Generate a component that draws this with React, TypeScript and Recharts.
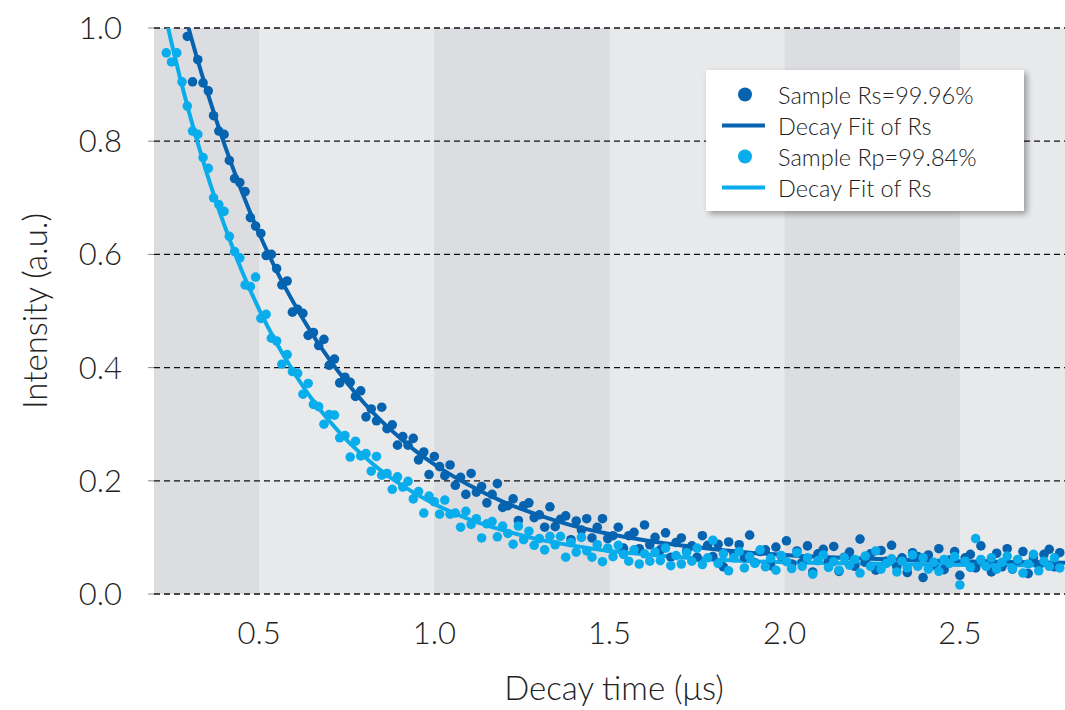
import { ComposedChart, XAxis, YAxis, ZAxis, Scatter, Line, ReferenceArea, ReferenceLine, Legend } from 'recharts'

// sample times (µs), shared by both measurements
const TIMES = [
  0.235, 0.25, 0.265, 0.28, 0.295, 0.31, 0.325, 0.34, 0.355, 0.37,
  0.385, 0.4, 0.415, 0.43, 0.445, 0.46, 0.475, 0.49, 0.505, 0.52,
  0.535, 0.55, 0.565, 0.58, 0.595, 0.61, 0.625, 0.64, 0.655, 0.67,
  0.685, 0.7, 0.715, 0.73, 0.745, 0.76, 0.775, 0.79, 0.805, 0.82,
  0.835, 0.85, 0.865, 0.88, 0.895, 0.91, 0.925, 0.94, 0.955, 0.97,
  0.985, 1.0, 1.015, 1.03, 1.045, 1.06, 1.075, 1.09, 1.105, 1.12,
  1.135, 1.15, 1.165, 1.18, 1.195, 1.21, 1.225, 1.24, 1.255, 1.27,
  1.285, 1.3, 1.315, 1.33, 1.345, 1.36, 1.375, 1.39, 1.405, 1.42,
  1.435, 1.45, 1.465, 1.48, 1.495, 1.51, 1.525, 1.54, 1.555, 1.57,
  1.585, 1.6, 1.615, 1.63, 1.645, 1.66, 1.675, 1.69, 1.705, 1.72,
  1.735, 1.75, 1.765, 1.78, 1.795, 1.81, 1.825, 1.84, 1.855, 1.87,
  1.885, 1.9, 1.915, 1.93, 1.945, 1.96, 1.975, 1.99, 2.005, 2.02,
  2.035, 2.05, 2.065, 2.08, 2.095, 2.11, 2.125, 2.14, 2.155, 2.17,
  2.185, 2.2, 2.215, 2.23, 2.245, 2.26, 2.275, 2.29, 2.305, 2.32,
  2.335, 2.35, 2.365, 2.38, 2.395, 2.41, 2.425, 2.44, 2.455, 2.47,
  2.485, 2.5, 2.515, 2.53, 2.545, 2.56, 2.575, 2.59, 2.605, 2.62,
  2.635, 2.65, 2.665, 2.68, 2.695, 2.71, 2.725, 2.74, 2.755, 2.77,
  2.785,
]

const RS_SAMPLE = [
  null, null, null, null, 0.985, 0.905, 0.944, 0.903, 0.889, 0.845,
  0.818, 0.812, 0.766, 0.734, 0.727, 0.711, 0.665, 0.650, 0.637, 0.598,
  0.600, 0.575, 0.546, 0.553, 0.498, 0.503, 0.496, 0.457, 0.462, 0.439,
  0.450, 0.404, 0.415, 0.373, 0.383, 0.374, 0.349, 0.359, 0.313, 0.327,
  0.306, 0.330, 0.292, 0.299, 0.263, 0.278, 0.263, 0.275, 0.237, 0.251,
  0.211, 0.243, 0.225, 0.209, 0.228, 0.192, 0.206, 0.176, 0.213, 0.180,
  0.190, 0.161, 0.176, 0.195, 0.153, 0.156, 0.168, 0.130, 0.156, 0.161,
  0.135, 0.140, 0.118, 0.154, 0.119, 0.132, 0.138, 0.096, 0.129, 0.113,
  0.133, 0.099, 0.118, 0.133, 0.098, 0.103, 0.118, 0.081, 0.103, 0.109,
  0.080, 0.122, 0.087, 0.100, 0.078, 0.108, 0.065, 0.091, 0.099, 0.076,
  0.085, 0.065, 0.103, 0.086, 0.066, 0.088, 0.048, 0.092, 0.071, 0.087,
  0.065, 0.104, 0.055, 0.075, 0.078, 0.050, 0.083, 0.067, 0.094, 0.053,
  0.076, 0.056, 0.085, 0.039, 0.071, 0.079, 0.058, 0.084, 0.040, 0.065,
  0.074, 0.049, 0.097, 0.056, 0.071, 0.042, 0.077, 0.058, 0.086, 0.048,
  0.064, 0.038, 0.073, 0.066, 0.029, 0.069, 0.051, 0.080, 0.043, 0.060,
  0.075, 0.033, 0.064, 0.070, 0.046, 0.085, 0.053, 0.039, 0.072, 0.048,
  0.080, 0.044, 0.059, 0.075, 0.036, 0.064, 0.051, 0.070, 0.079, 0.048,
  0.073,
]

const RP_SAMPLE = [
  0.956, 0.940, 0.956, 0.905, 0.862, 0.818, 0.812, 0.771, 0.752, 0.700,
  0.688, 0.676, 0.632, 0.605, 0.594, 0.546, 0.543, 0.560, 0.487, 0.494,
  0.452, 0.447, 0.406, 0.423, 0.393, 0.390, 0.353, 0.372, 0.335, 0.331,
  0.300, 0.317, 0.316, 0.276, 0.280, 0.242, 0.270, 0.244, 0.248, 0.217,
  0.243, 0.210, 0.213, 0.185, 0.207, 0.189, 0.199, 0.168, 0.181, 0.143,
  0.173, 0.163, 0.141, 0.166, 0.141, 0.143, 0.118, 0.146, 0.123, 0.133,
  0.099, 0.124, 0.128, 0.101, 0.120, 0.107, 0.088, 0.120, 0.096, 0.111,
  0.086, 0.098, 0.078, 0.102, 0.087, 0.102, 0.065, 0.091, 0.074, 0.100,
  0.076, 0.065, 0.087, 0.057, 0.081, 0.066, 0.086, 0.070, 0.058, 0.078,
  0.053, 0.071, 0.058, 0.074, 0.059, 0.081, 0.050, 0.068, 0.053, 0.073,
  0.058, 0.081, 0.052, 0.064, 0.095, 0.054, 0.071, 0.041, 0.064, 0.075,
  0.046, 0.066, 0.054, 0.078, 0.048, 0.063, 0.042, 0.068, 0.057, 0.045,
  0.073, 0.049, 0.064, 0.035, 0.059, 0.069, 0.047, 0.057, 0.042, 0.064,
  0.051, 0.061, 0.037, 0.067, 0.049, 0.076, 0.044, 0.054, 0.062, 0.039,
  0.058, 0.046, 0.069, 0.049, 0.064, 0.044, 0.056, 0.040, 0.061, 0.054,
  0.066, 0.016, 0.058, 0.047, 0.098, 0.061, 0.049, 0.064, 0.044, 0.056,
  0.067, 0.045, 0.061, 0.037, 0.053, 0.070, 0.041, 0.058, 0.049, 0.064,
  0.046,
]

// decay fits
const RS_FIT_T = [0.28, 0.3, 0.35, 0.4, 0.45, 0.5, 0.55, 0.6, 0.65, 0.7, 0.75, 0.8, 0.85, 0.9, 0.95, 1.0, 1.1, 1.2, 1.3, 1.4, 1.5, 1.6, 1.7, 1.8, 1.9, 2.0, 2.2, 2.4, 2.6, 2.8]
const RS_FIT = [1.044, 0.997, 0.891, 0.796, 0.712, 0.637, 0.571, 0.513, 0.461, 0.415, 0.374, 0.337, 0.305, 0.277, 0.251, 0.229, 0.192, 0.162, 0.139, 0.12, 0.106, 0.095, 0.086, 0.079, 0.073, 0.069, 0.063, 0.059, 0.057, 0.055]
const RP_FIT_T = [0.24, 0.25, 0.3, 0.35, 0.4, 0.45, 0.5, 0.55, 0.6, 0.65, 0.7, 0.75, 0.8, 0.85, 0.9, 0.95, 1.0, 1.1, 1.2, 1.3, 1.4, 1.5, 1.6, 1.7, 1.8, 1.9, 2.0, 2.2, 2.4, 2.6, 2.75]
const RP_FIT = [1.001, 0.974, 0.851, 0.745, 0.653, 0.572, 0.503, 0.443, 0.391, 0.345, 0.306, 0.272, 0.243, 0.217, 0.195, 0.176, 0.159, 0.132, 0.112, 0.096, 0.085, 0.076, 0.07, 0.065, 0.061, 0.058, 0.056, 0.054, 0.052, 0.051, 0.051]

const X_TICKS = [0.5, 1.0, 1.5, 2.0, 2.5]
const Y_TICKS = [0, 0.2, 0.4, 0.6, 0.8, 1.0]
const DARK_BANDS = [[0.2, 0.5], [1.0, 1.5], [2.0, 2.5]]

const DARK = '#0563b0'
const LIGHT = '#0aadec'
const FONT = 'Lato, "Noto Sans", sans-serif'

const LEGEND_ITEMS = [
  { label: 'Sample Rs=99.96%', color: DARK, kind: 'dot' },
  { label: 'Decay Fit of Rs', color: DARK, kind: 'line' },
  { label: 'Sample Rp=99.84%', color: LIGHT, kind: 'dot' },
  { label: 'Decay Fit of Rs', color: LIGHT, kind: 'line' },
]

const rsPoints = TIMES.map((t, i) => ({ t, v: RS_SAMPLE[i] })).filter((d) => d.v !== null)
const rpPoints = TIMES.map((t, i) => ({ t, v: RP_SAMPLE[i] })).filter((d) => d.v !== null)
const rsFit = RS_FIT_T.map((t, i) => ({ t, v: RS_FIT[i] }))
const rpFit = RP_FIT_T.map((t, i) => ({ t, v: RP_FIT[i] }))

function LegendBox() {
  return (
    <div
      style={{
        width: 318,
        height: 141,
        background: '#fff',
        boxShadow: '3px 3px 6px rgba(0,0,0,0.35)',
        boxSizing: 'border-box',
        paddingTop: 9,
        fontFamily: FONT,
        fontWeight: 300,
        fontSize: 23.5,
        color: '#222',
      }}
    >
      {LEGEND_ITEMS.map((item, i) => (
        <div key={i} style={{ display: 'flex', alignItems: 'center', height: 31 }}>
          <svg width={72} height={31}>
            {item.kind === 'dot' ? (
              <circle cx={39} cy={15.5} r={7} fill={item.color} />
            ) : (
              <line x1={16} x2={59} y1={15.5} y2={15.5} stroke={item.color} strokeWidth={4} />
            )}
          </svg>
          <span>{item.label}</span>
        </div>
      ))}
    </div>
  )
}

export default function App() {
  return (
    <div style={{ position: 'absolute', left: 0, top: 0, width: 1065, height: 710, background: '#fff', fontFamily: FONT }}>
      <ComposedChart width={1065} height={710} margin={{ top: 28, right: 0, left: 0, bottom: 0 }}>
        <XAxis
          dataKey="t"
          type="number"
          domain={[0.2, 2.8]}
          ticks={X_TICKS}
          allowDataOverflow
          axisLine={false}
          tickLine={false}
          tickSize={0}
          tickMargin={28}
          height={116}
          tickFormatter={(v) => v.toFixed(1)}
          tick={{ fill: '#222', fontSize: 31, fontWeight: 300, fontFamily: FONT }}
          label={{
            content: () => (
              <text x={614} y={700} textAnchor="middle" fill="#222" fontSize={33} fontWeight={300} fontFamily={FONT}>
                Decay time (μs)
              </text>
            ),
          }}
        />
        <YAxis
          dataKey="v"
          type="number"
          domain={[0, 1]}
          ticks={Y_TICKS}
          allowDataOverflow
          width={154}
          axisLine={false}
          tickSize={6}
          tickMargin={26}
          tickLine={{ stroke: '#888' }}
          tickFormatter={(v) => v.toFixed(1)}
          tick={{ fill: '#222', fontSize: 31, fontWeight: 300, fontFamily: FONT }}
          label={{
            content: () => (
              <text
                x={47}
                y={311}
                transform="rotate(-90 47 311)"
                textAnchor="middle"
                fill="#222"
                fontSize={33}
                fontWeight={300}
                fontFamily={FONT}
              >
                Intensity (a.u.)
              </text>
            ),
          }}
        />
        <ZAxis range={[72, 72]} />
        <ReferenceArea x1={0.2} x2={2.8} fill="#e8e9eb" fillOpacity={1} stroke="none" />
        {DARK_BANDS.map(([a, b]) => (
          <ReferenceArea key={a} x1={a} x2={b} fill="#dcdde0" fillOpacity={1} stroke="none" />
        ))}
        {Y_TICKS.map((y) => (
          <ReferenceLine key={y} y={y} stroke="#111" strokeDasharray="6 4" strokeWidth={1.3} />
        ))}
        <Scatter name="Sample Rs=99.96%" data={rsPoints} dataKey="v" fill={DARK} isAnimationActive={false} />
        <Scatter name="Sample Rp=99.84%" data={rpPoints} dataKey="v" fill={LIGHT} isAnimationActive={false} />
        <Line data={rsFit} dataKey="v" type="monotone" stroke={DARK} strokeWidth={4} dot={false} isAnimationActive={false} />
        <Line data={rpFit} dataKey="v" type="monotone" stroke={LIGHT} strokeWidth={4} dot={false} isAnimationActive={false} />
        <Legend
          layout="vertical"
          align="center"
          verticalAlign="middle"
          wrapperStyle={{ left: 706, top: 70, width: 318, height: 141 }}
          content={() => <LegendBox />}
        />
      </ComposedChart>
    </div>
  )
}
